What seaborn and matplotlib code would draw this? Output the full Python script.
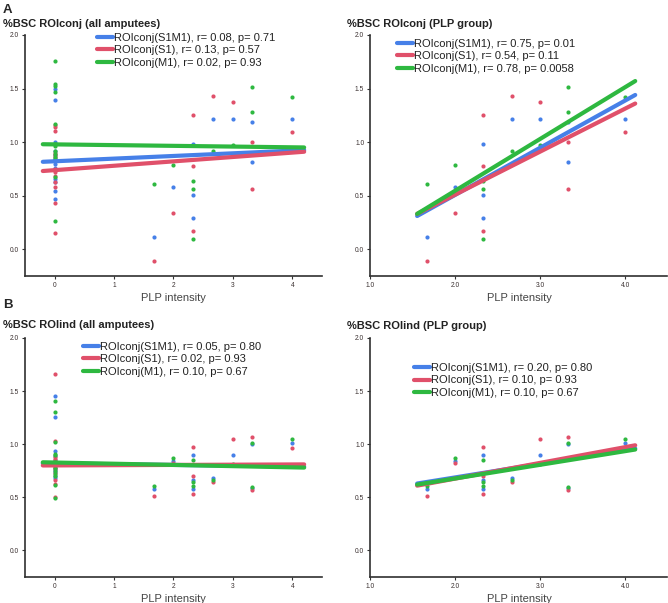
import numpy as np
import pandas as pd
import matplotlib as mpl
import matplotlib.pyplot as plt
import seaborn as sns

sns.set_style("ticks")
plt.rcParams['font.family'] = ['Liberation Sans', 'DejaVu Sans']
mpl.rcParams['axes.unicode_minus'] = False

# PLP intensity of the PLP group (10 amputees); 13 amputees sit at 0
plp_x = [1.67, 2.0, 2.33, 2.33, 2.33, 2.67, 3.0, 3.33, 3.33, 4.0]
zero_x = [0.0] * 13

series_names = ["S1M1", "S1", "M1"]
colors = {"S1M1": "#4680E8", "S1": "#E0506A", "M1": "#2EB840"}

# ROIconj, PLP group
conj_s1m1_plp = [0.11, 0.585, 0.98, 0.51, 0.29, 1.22, 1.22, 1.19, 0.81, 1.22]
conj_s1_plp = [-0.11, 0.34, 1.25, 0.78, 0.17, 1.43, 1.37, 1.00, 0.565, 1.09]
conj_m1_plp = [0.61, 0.79, 0.64, 0.565, 0.10, 0.92, 0.97, 1.51, 1.28, 1.42]
# ROIconj, no PLP
conj_s1m1_zero = [1.50, 1.39, 1.00, 0.92, 0.88, 0.84, 0.82, 0.80, 0.76, 0.63, 0.545, 0.47, 0.66]
conj_s1_zero = [1.16, 1.14, 1.10, 0.90, 0.86, 0.75, 0.72, 0.68, 0.63, 0.58, 0.43, 0.15, 0.88]
conj_m1_zero = [1.76, 1.54, 1.52, 1.47, 1.17, 0.98, 0.96, 0.92, 0.89, 0.86, 0.84, 0.67, 0.26]

# ROIind, PLP group
ind_s1m1_plp = [0.58, 0.84, 0.90, 0.66, 0.575, 0.68, 0.90, 1.00, 0.59, 1.01]
ind_s1_plp = [0.51, 0.82, 0.975, 0.70, 0.535, 0.645, 1.05, 1.07, 0.57, 0.96]
ind_m1_plp = [0.61, 0.87, 0.85, 0.645, 0.61, 0.665, 0.81, 1.01, 0.60, 1.05]
# ROIind, no PLP
ind_s1m1_zero = [1.45, 1.26, 0.94, 0.89, 0.85, 0.83, 0.82, 0.80, 0.78, 0.76, 0.74, 0.70, 0.68]
ind_s1_zero = [1.66, 1.03, 0.88, 0.86, 0.84, 0.81, 0.80, 0.79, 0.77, 0.73, 0.66, 0.63, 0.50]
ind_m1_zero = [1.41, 1.30, 1.02, 0.91, 0.90, 0.83, 0.80, 0.78, 0.75, 0.72, 0.70, 0.62, 0.49]

# fitted lines as drawn (x range, y at both ends)
all_line_x = [-0.2, 4.2]
plp_line_x = [1.55, 4.12]
conj_all_lines = {"S1M1": [0.816, 0.925], "S1": [0.73, 0.91], "M1": [0.98, 0.95]}
conj_plp_lines = {"S1M1": [0.31, 1.44], "S1": [0.33, 1.36], "M1": [0.33, 1.57]}
ind_all_lines = {"S1M1": [0.82, 0.79], "S1": [0.80, 0.81], "M1": [0.83, 0.78]}
ind_plp_lines = {"S1M1": [0.63, 0.96], "S1": [0.61, 0.99], "M1": [0.62, 0.95]}

conj_all_stats = ["r= 0.08, p= 0.71", "r= 0.13, p= 0.57", "r= 0.02, p= 0.93"]
conj_plp_stats = ["r= 0.75, p= 0.01", "r= 0.54, p= 0.11", "r= 0.78, p= 0.0058"]
ind_all_stats = ["r= 0.05, p= 0.80", "r= 0.02, p= 0.93", "r= 0.10, p= 0.67"]
ind_plp_stats = ["r= 0.20, p= 0.80", "r= 0.10, p= 0.93", "r= 0.10, p= 0.67"]

all_ticks = [0, 1, 2, 3, 4]
all_ticklabels = ["0", "1", "2", "3", "4"]
plp_ticks = [1, 2, 3, 4]
plp_ticklabels = ["1.0", "2.0", "3.0", "4.0"]
y_ticks = [0.0, 0.5, 1.0, 1.5, 2.0]
y_ticklabels = ["0.0", "0.5", "1.0", "1.5", "2.0"]

conj_plp = {"S1M1": conj_s1m1_plp, "S1": conj_s1_plp, "M1": conj_m1_plp}
conj_zero = {"S1M1": conj_s1m1_zero, "S1": conj_s1_zero, "M1": conj_m1_zero}
ind_plp = {"S1M1": ind_s1m1_plp, "S1": ind_s1_plp, "M1": ind_m1_plp}
ind_zero = {"S1M1": ind_s1m1_zero, "S1": ind_s1_zero, "M1": ind_m1_zero}


def draw_panel(ax, pts, line_x, lines, stats, xlim, ticks, ticklabels, title, leg_xy):
    for name in series_names:
        xs, ys = pts[name]
        sns.scatterplot(x=xs, y=ys, color=colors[name], s=9, linewidth=0,
                        ax=ax, zorder=2, legend=False)
    for name, st in zip(series_names, stats):
        sns.lineplot(x=line_x, y=lines[name], color=colors[name], lw=3,
                     label=f"ROIconj({name}), {st}", ax=ax, zorder=3)
    ax.set_xlim(*xlim)
    ax.set_ylim(-0.25, 2.0)
    ax.set_xticks(ticks)
    ax.set_xticklabels(ticklabels)
    ax.set_yticks(y_ticks)
    ax.set_yticklabels(y_ticklabels)
    ax.tick_params(length=2, width=0.8, pad=2.5, labelsize=4.8,
                   labelcolor="#3a3030", color="#333333")
    for sp in ["left", "bottom"]:
        ax.spines[sp].set_linewidth(1.2)
        ax.spines[sp].set_color("#303030")
    sns.despine(ax=ax)
    ax.set_xlabel("PLP intensity", fontsize=8, color="#444444", labelpad=2.5)
    ax.set_ylabel("")
    ax.text(title[1], title[2], title[0], transform=ax.transAxes, fontsize=8,
            fontweight="bold", color="#222222", ha="left", va="center")
    ax.legend(loc="upper left", bbox_to_anchor=leg_xy, frameon=False, fontsize=8,
              handlelength=1.45, handletextpad=0.1, labelspacing=0.23,
              borderpad=0, borderaxespad=0, labelcolor="#222222")


fig = plt.figure(figsize=(6.68, 6.03), dpi=100)
ax1 = fig.add_axes([0.0374, 0.5423, 0.4446, 0.3997])
ax2 = fig.add_axes([0.5546, 0.5423, 0.4446, 0.3997])
ax3 = fig.add_axes([0.0374, 0.0431, 0.4446, 0.3964])
ax4 = fig.add_axes([0.5546, 0.0431, 0.4446, 0.3964])

conj_all_pts = {n: (zero_x + plp_x, conj_zero[n] + conj_plp[n]) for n in series_names}
conj_plp_pts = {n: (plp_x, conj_plp[n]) for n in series_names}
ind_all_pts = {n: (zero_x + plp_x, ind_zero[n] + ind_plp[n]) for n in series_names}
ind_plp_pts = {n: (plp_x, ind_plp[n]) for n in series_names}

draw_panel(ax1, conj_all_pts, all_line_x, conj_all_lines, conj_all_stats, (-0.5, 4.5),
           all_ticks, all_ticklabels, ("%BSC ROIconj (all amputees)", -0.074, 1.046), (0.241, 1.009))
draw_panel(ax2, conj_plp_pts, plp_line_x, conj_plp_lines, conj_plp_stats, (1.0, 4.5),
           plp_ticks, plp_ticklabels, ("%BSC ROIconj (PLP group)", -0.079, 1.046), (0.090, 0.984))
draw_panel(ax3, ind_all_pts, all_line_x, ind_all_lines, ind_all_stats, (-0.5, 4.5),
           all_ticks, all_ticklabels, ("%BSC ROIind (all amputees)", -0.074, 1.054), (0.196, 0.985))
draw_panel(ax4, ind_plp_pts, plp_line_x, ind_plp_lines, ind_plp_stats, (1.0, 4.5),
           plp_ticks, plp_ticklabels, ("%BSC ROIind (PLP group)", -0.079, 1.05), (0.146, 0.896))

fig.text(3 / 668, 1 - 10 / 603, "A", fontsize=9.5, fontweight="bold", ha="left", va="center")
fig.text(3 / 668, 1 - 305 / 603, "B", fontsize=9.5, fontweight="bold", ha="left", va="center")

fig.savefig("out.png", dpi=100)
